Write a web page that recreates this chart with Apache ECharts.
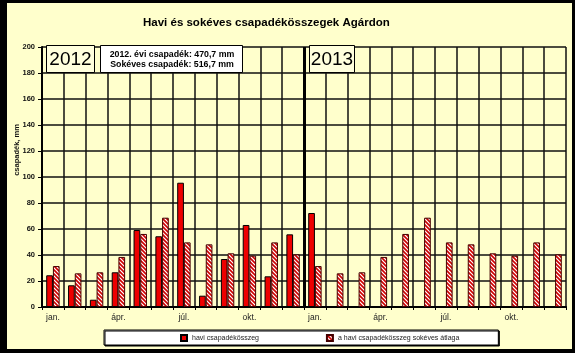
<!DOCTYPE html>
<html>
<head>
<meta charset="utf-8">
<script src="https://cdn.jsdelivr.net/npm/echarts@6/dist/echarts.min.js"></script>
<style>
  html, body { margin: 0; padding: 0; background: #000; }
  #chart { width: 575px; height: 353px; }
</style>
</head>
<body>
<div id="chart"></div>
<script>
// honapok (ket ev egymas utan)
const months = ['jan.', 'febr.', 'márc.', 'ápr.', 'máj.', 'jún.', 'júl.', 'aug.', 'szept.', 'okt.', 'nov.', 'dec.']
const categories = months.concat(months)

// havi csapadekosszeg, mm
const rain2012 = [24.4, 16.7, 5.6, 26.7, 59.2, 54.4, 95.6, 8.7, 36.9, 63.1, 23.6, 55.9]
const rain2013 = [72.3]

// sokeves havi atlag, mm
const longTermAvg = [31.5, 25.9, 26.7, 38.5, 56.2, 68.7, 49.7, 48.2, 41.3, 39.5, 49.7, 40.5]

const yTicks = { min: 0, max: 200, interval: 20 }

const monthly = rain2012.concat(rain2013)
while (monthly.length < categories.length) monthly.push(null)
const average = longTermAvg.concat(longTermAvg)

// ferde csikos minta a sokeves atlaghoz
const makeHatch = () => {
  const c = document.createElement('canvas')
  c.width = 4
  c.height = 4
  const ctx = c.getContext('2d')
  ctx.fillStyle = '#ffffff'
  ctx.fillRect(0, 0, 4, 4)
  ctx.strokeStyle = '#d00000'
  ctx.lineWidth = 1.6
  ctx.beginPath()
  ctx.moveTo(-1, -1); ctx.lineTo(5, 5)
  ctx.moveTo(3, -1); ctx.lineTo(5, 1)
  ctx.moveTo(-1, 3); ctx.lineTo(1, 5)
  ctx.stroke()
  return c
}

const font = 'Liberation Sans, Arial, sans-serif'
const chart = echarts.init(document.getElementById('chart'))

const option = {
  backgroundColor: '#FFFFCC',
  animation: false,
  textStyle: { fontFamily: font },
  title: {
    text: 'Havi és sokéves csapadékösszegek Agárdon',
    left: 138,
    top: 12,
    textStyle: { fontSize: 11.5, fontWeight: 'bold', color: '#000', fontFamily: font }
  },
  grid: { left: 42, right: 9, top: 47, bottom: 46 },
  legend: {
    left: 104,
    top: 330,
    itemWidth: 6,
    itemHeight: 6,
    itemGap: 67,
    padding: [4, 39, 3, 76],
    backgroundColor: '#ffffff',
    borderColor: '#000',
    borderWidth: 1,
    shadowColor: '#000',
    shadowOffsetX: 1,
    shadowOffsetY: 1,
    shadowBlur: 0,
    textStyle: { fontSize: 7, color: '#222' },
    data: [
      { name: 'havi csapadékösszeg', icon: 'rect' },
      { name: 'a havi csapadékösszeg sokéves átlaga', icon: 'rect' }
    ]
  },
  xAxis: [
    {
      type: 'category',
      data: categories,
      axisLine: { lineStyle: { color: '#000', width: 2 } },
      axisTick: { show: true, interval: 0, length: 3, lineStyle: { color: '#000' } },
      axisLabel: { interval: 2, color: '#222', fontSize: 8.5, margin: 6 },
      splitLine: { show: true, interval: 0, lineStyle: { color: '#111', width: 1.5 } }
    },
    {
      // csak a 2012/2013 hatarvonalhoz
      type: 'value',
      min: 0,
      max: categories.length,
      interval: 12,
      position: 'bottom',
      axisLine: { show: false },
      axisTick: { show: false },
      axisLabel: { show: false },
      splitLine: { show: true, lineStyle: { color: ['rgba(0,0,0,0)', '#000', 'rgba(0,0,0,0)'], width: 3 } }
    }
  ],
  yAxis: {
    type: 'value',
    min: yTicks.min,
    max: yTicks.max,
    interval: yTicks.interval,
    axisLine: { show: true, lineStyle: { color: '#000', width: 2 } },
    axisTick: { show: true, length: 4, lineStyle: { color: '#000' } },
    axisLabel: { color: '#111', fontSize: 7.5, fontWeight: 'bold', margin: 7 },
    splitLine: { show: true, lineStyle: { color: '#111', width: 1.5 } }
  },
  series: [
    {
      name: 'havi csapadékösszeg',
      type: 'bar',
      data: monthly,
      barWidth: 6.7,
      barGap: '0%',
      itemStyle: { color: '#ee0000', borderColor: '#000', borderWidth: 1 }
    },
    {
      name: 'a havi csapadékösszeg sokéves átlaga',
      type: 'bar',
      data: average,
      barWidth: 6.7,
      barGap: '0%',
      itemStyle: { color: { image: makeHatch(), repeat: 'repeat' }, borderColor: '#400', borderWidth: 1 }
    }
  ],
  graphic: [
    // fekete keret
    { type: 'rect', z: 100, shape: { x: 0, y: 0, width: 7, height: 353 }, style: { fill: '#000' } },
    { type: 'rect', z: 100, shape: { x: 0, y: 0, width: 575, height: 3 }, style: { fill: '#000' } },
    { type: 'rect', z: 100, shape: { x: 572, y: 0, width: 3, height: 353 }, style: { fill: '#000' } },
    { type: 'rect', z: 100, shape: { x: 0, y: 349, width: 575, height: 4 }, style: { fill: '#000' } },
    {
      type: 'text',
      z: 100,
      x: 17,
      y: 150,
      rotation: Math.PI / 2,
      style: { text: 'csapadék, mm', font: 'bold 7.5px ' + font, fill: '#111', align: 'center', verticalAlign: 'middle' }
    },
    { type: 'rect', z: 100, shape: { x: 46.5, y: 45.5, width: 48, height: 27 }, style: { fill: '#FFFFDD', stroke: '#000', lineWidth: 1 } },
    { type: 'text', z: 101, x: 70.5, y: 59.5, style: { text: '2012', font: '19px ' + font, fill: '#000', align: 'center', verticalAlign: 'middle' } },
    { type: 'rect', z: 100, shape: { x: 100.5, y: 45.5, width: 142, height: 27 }, style: { fill: '#ffffff', stroke: '#000', lineWidth: 1 } },
    {
      type: 'text', z: 101, x: 172, y: 59.5,
      style: { text: '2012. évi csapadék: 470,7 mm\nSokéves csapadék: 516,7 mm', font: 'bold 8.8px ' + font, lineHeight: 10.5, fill: '#000', align: 'center', verticalAlign: 'middle' }
    },
    { type: 'rect', z: 100, shape: { x: 309.5, y: 45.5, width: 45, height: 27 }, style: { fill: '#FFFFDD', stroke: '#000', lineWidth: 1 } },
    { type: 'text', z: 101, x: 332, y: 59.5, style: { text: '2013', font: '19px ' + font, fill: '#000', align: 'center', verticalAlign: 'middle' } }
  ]
}

option && chart.setOption(option)
</script>
</body>
</html>
